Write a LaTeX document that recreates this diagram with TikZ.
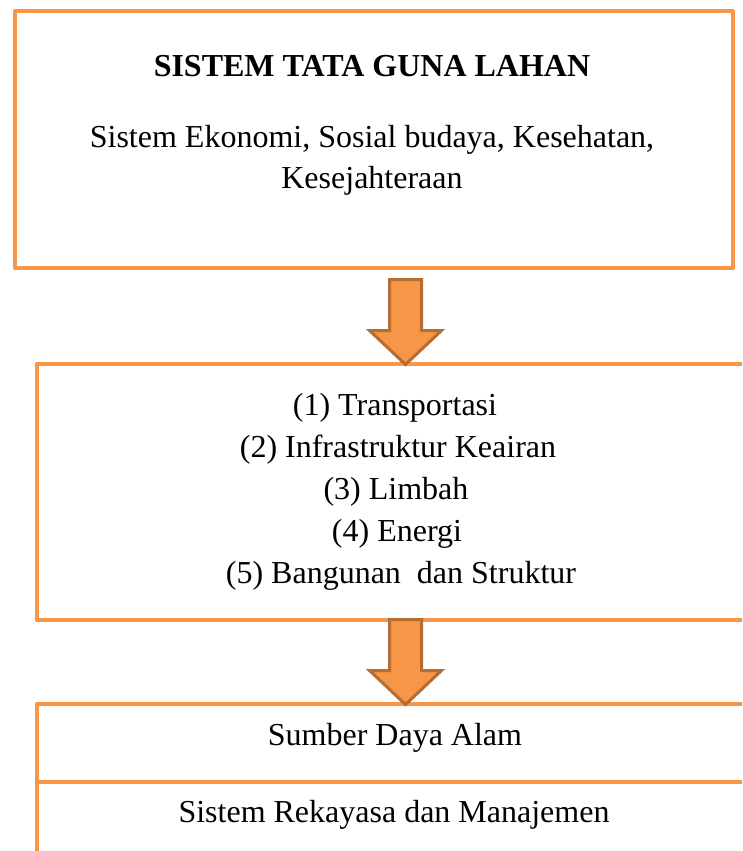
\documentclass[tikz,border=0pt]{standalone}
\usepackage{fontspec}
\setmainfont{Liberation Serif}
\definecolor{boxorange}{HTML}{F79646}
\definecolor{arrowedge}{HTML}{B66D31}
\begin{document}
\begin{tikzpicture}[x=1pt,y=-1pt,
  frame/.style={draw=boxorange,line width=4pt,line join=round},
  txt/.style={inner sep=0pt,anchor=base,font=\fontsize{32}{41}\selectfont},
  blockarrow/.style={fill=boxorange,draw=arrowedge,line width=3pt,line join=miter}]
\useasboundingbox (0,0) rectangle (742,851);
\clip (0,0) rectangle (742,851);
% top box
\node[frame,minimum width=718pt,minimum height=257pt,inner sep=0pt,anchor=north west] (top) at (13,9) {};
\node[txt,font=\fontsize{32}{41}\selectfont\bfseries] (title) at (372,77) {SISTEM TATA GUNA LAHAN};
\node[txt] (l1) at (372,147) {Sistem Ekonomi, Sosial budaya, Kesehatan,};
\node[txt] (l2) at (372,188) {Kesejahteraan};
% middle box (open on the right)
\coordinate (m1) at (760,364);
\coordinate (m2) at (37,364);
\coordinate (m3) at (37,620);
\coordinate (m4) at (760,620);
\draw[frame] (m1) -- (m2) -- (m3) -- (m4);
\node[txt] (t1) at (395,415) {(1) Transportasi};
\node[txt] (t2) at (398,457) {(2) Infrastruktur Keairan};
\node[txt] (t3) at (396,499) {(3) Limbah};
\node[txt] (t4) at (397,541) {(4) Energi};
\node[txt] (t5) at (401,583) {(5) Bangunan~ dan Struktur};
% bottom box (open on the right and bottom)
\coordinate (b1) at (760,704);
\coordinate (b2) at (37,704);
\coordinate (b3) at (37,870);
\coordinate (d1) at (37,782);
\coordinate (d2) at (760,782);
\draw[frame] (b1) -- (b2) -- (b3);
\draw[frame] (d1) -- (d2);
\node[txt] (s1) at (395,745) {Sumber Daya Alam};
\node[txt] (s2) at (394,822) {Sistem Rekayasa dan Manajemen};
% block arrows
\coordinate (a1) at (405.5,279.5);
\draw[blockarrow] ([xshift=-16pt]a1) -- ([xshift=16pt]a1) -- ([xshift=16pt,yshift=-51pt]a1) -- ([xshift=36pt,yshift=-51pt]a1) -- ([yshift=-85pt]a1) -- ([xshift=-36pt,yshift=-51pt]a1) -- ([xshift=-16pt,yshift=-51pt]a1) -- cycle;
\coordinate (a2) at (405.5,619.5);
\draw[blockarrow] ([xshift=-16pt]a2) -- ([xshift=16pt]a2) -- ([xshift=16pt,yshift=-51pt]a2) -- ([xshift=36pt,yshift=-51pt]a2) -- ([yshift=-85pt]a2) -- ([xshift=-36pt,yshift=-51pt]a2) -- ([xshift=-16pt,yshift=-51pt]a2) -- cycle;
\end{tikzpicture}
\end{document}
